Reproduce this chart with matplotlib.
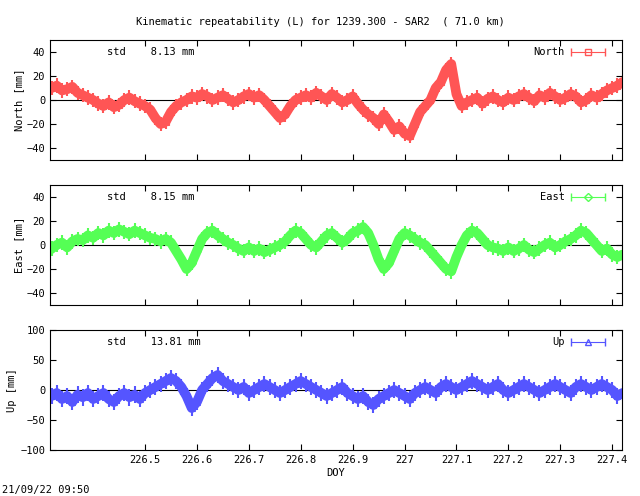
import numpy as np
import matplotlib
matplotlib.use("Agg")
import matplotlib.pyplot as plt

title = "Kinematic repeatability (L) for 1239.300 - SAR2  ( 71.0 km)"
doy_start = 226.32
doy_step = 0.01
north = [10,12,8,9,11,6,4,2,0,
 -3,-5,-2,-6,-4,0,2,-1,-3,-5,
 -8,-15,-20,-18,-10,-5,-2,0,3,2,
 5,3,0,2,4,1,-2,0,3,5,
 2,4,0,-5,-10,-15,-12,-5,0,2,
 4,2,6,3,0,5,2,-2,0,3,
 -3,-8,-12,-15,-20,-12,-18,-25,-22,-28,
 -30,-20,-10,-5,0,10,15,25,30,5,
 -5,-2,0,2,-3,1,3,0,-2,2,
 0,3,5,2,-1,4,2,6,3,0,
 2,5,3,-2,0,4,2,5,8,10,12,15]
east = [-3,0,2,-2,3,5,4,8,6,
 10,8,12,10,13,11,9,12,10,8,
 6,5,3,5,2,-5,-12,-20,-15,-5,
 5,10,12,8,5,2,0,-3,-5,-2,
 -5,-3,-6,-4,-2,0,3,8,12,10,
 5,0,-2,3,8,10,6,2,5,10,
 12,15,10,0,-12,-20,-15,-5,5,10,
 8,5,2,0,-5,-10,-15,-20,-22,-10,
 0,8,12,10,5,0,-2,-3,-5,-2,
 -5,-3,0,-4,-6,-3,0,2,-2,0,
 3,5,8,12,10,5,0,-5,-3,-8,-10,-8]
up = [-10,-5,-15,-10,-20,-8,-12,-5,-15,
 -10,-5,-15,-20,-10,-5,-12,-8,-15,-5,
 0,5,10,15,20,15,5,-10,-30,-20,
 0,10,20,25,15,10,5,0,5,-5,
 0,5,10,5,0,-5,0,5,10,15,
 10,5,0,-5,-10,-5,0,5,-5,-10,
 -15,-10,-20,-25,-15,-10,-5,0,-5,-10,
 -15,-5,0,5,0,-5,5,10,5,0,
 5,10,15,10,5,0,5,10,0,-5,
 0,5,10,5,0,-5,0,5,10,5,
 0,-5,5,10,5,0,5,10,5,0,-10,-5]
stds = ["8.13", "8.15", "13.81"]
names = ["North", "East", "Up"]
ylabels = ["North [mm]", "East [mm]", "Up [mm]"]
yticks = [[-40,-20,0,20,40], [-40,-20,0,20,40], [-100,-50,0,50,100]]
ylims = [(-50,50), (-50,50), (-100,100)]
xticks = [226.5,226.6,226.7,226.8,226.9,227.0,227.1,227.2,227.3,227.4]
xticklabels = ["226.5","226.6","226.7","226.8","226.9","227","227.1","227.2","227.3","227.4"]
colors = ["#ff5555", "#55ff55", "#5555ff"]
markers = ["s", "D", "^"]

plt.rcParams["font.family"] = "DejaVu Sans Mono"
plt.rcParams["font.size"] = 7.5
fig = plt.figure(figsize=(6.4, 4.96), dpi=100)
W, H = 640, 496
boxes = [(40,160), (185,305), (330,450)]
for i, (data, (top, bot)) in enumerate(zip([north, east, up], boxes)):
    ax = fig.add_axes([50/W, 1-bot/H, 572/W, (bot-top)/H])
    x = doy_start + doy_step*np.arange(len(data))
    ax.axhline(0, color="black", lw=0.8)
    err = 6 if i < 2 else 14
    ax.errorbar(x, data, yerr=err, fmt="none", ecolor=colors[i], elinewidth=1.5)
    ax.plot(x, data, color=colors[i], lw=7, solid_capstyle="round")
    ax.plot(x, data, ls="none", marker=markers[i], ms=4, mfc="none",
            mec=colors[i], mew=0.8)
    ax.set_xlim(226.317, 227.419)
    ax.set_ylim(*ylims[i])
    ax.set_yticks(yticks[i])
    ax.set_xticks(xticks)
    ax.tick_params(direction="in", length=4, top=True, right=True)
    if i == 2:
        ax.set_xticklabels(xticklabels)
        ax.set_xlabel("DOY", labelpad=2)
    else:
        ax.set_xticklabels([])
    ax.set_ylabel(ylabels[i], labelpad=2)
    ax.text(0.1, 0.9, "std    %s mm" % stds[i], transform=ax.transAxes, va="center")
    ax.text(0.9, 0.9, names[i], transform=ax.transAxes, va="center", ha="right")
    ax.errorbar([0.94], [0.9], xerr=[0.03], transform=ax.transAxes, color=colors[i],
                marker=markers[i], ms=4, mfc="none", capsize=3, lw=0.8)
fig.text(0.5, 1-22/H, title, ha="center", va="center")
fig.text(2/W, 1-490/H, "21/09/22 09:50", va="center")
fig.savefig("out.png", dpi=100)
